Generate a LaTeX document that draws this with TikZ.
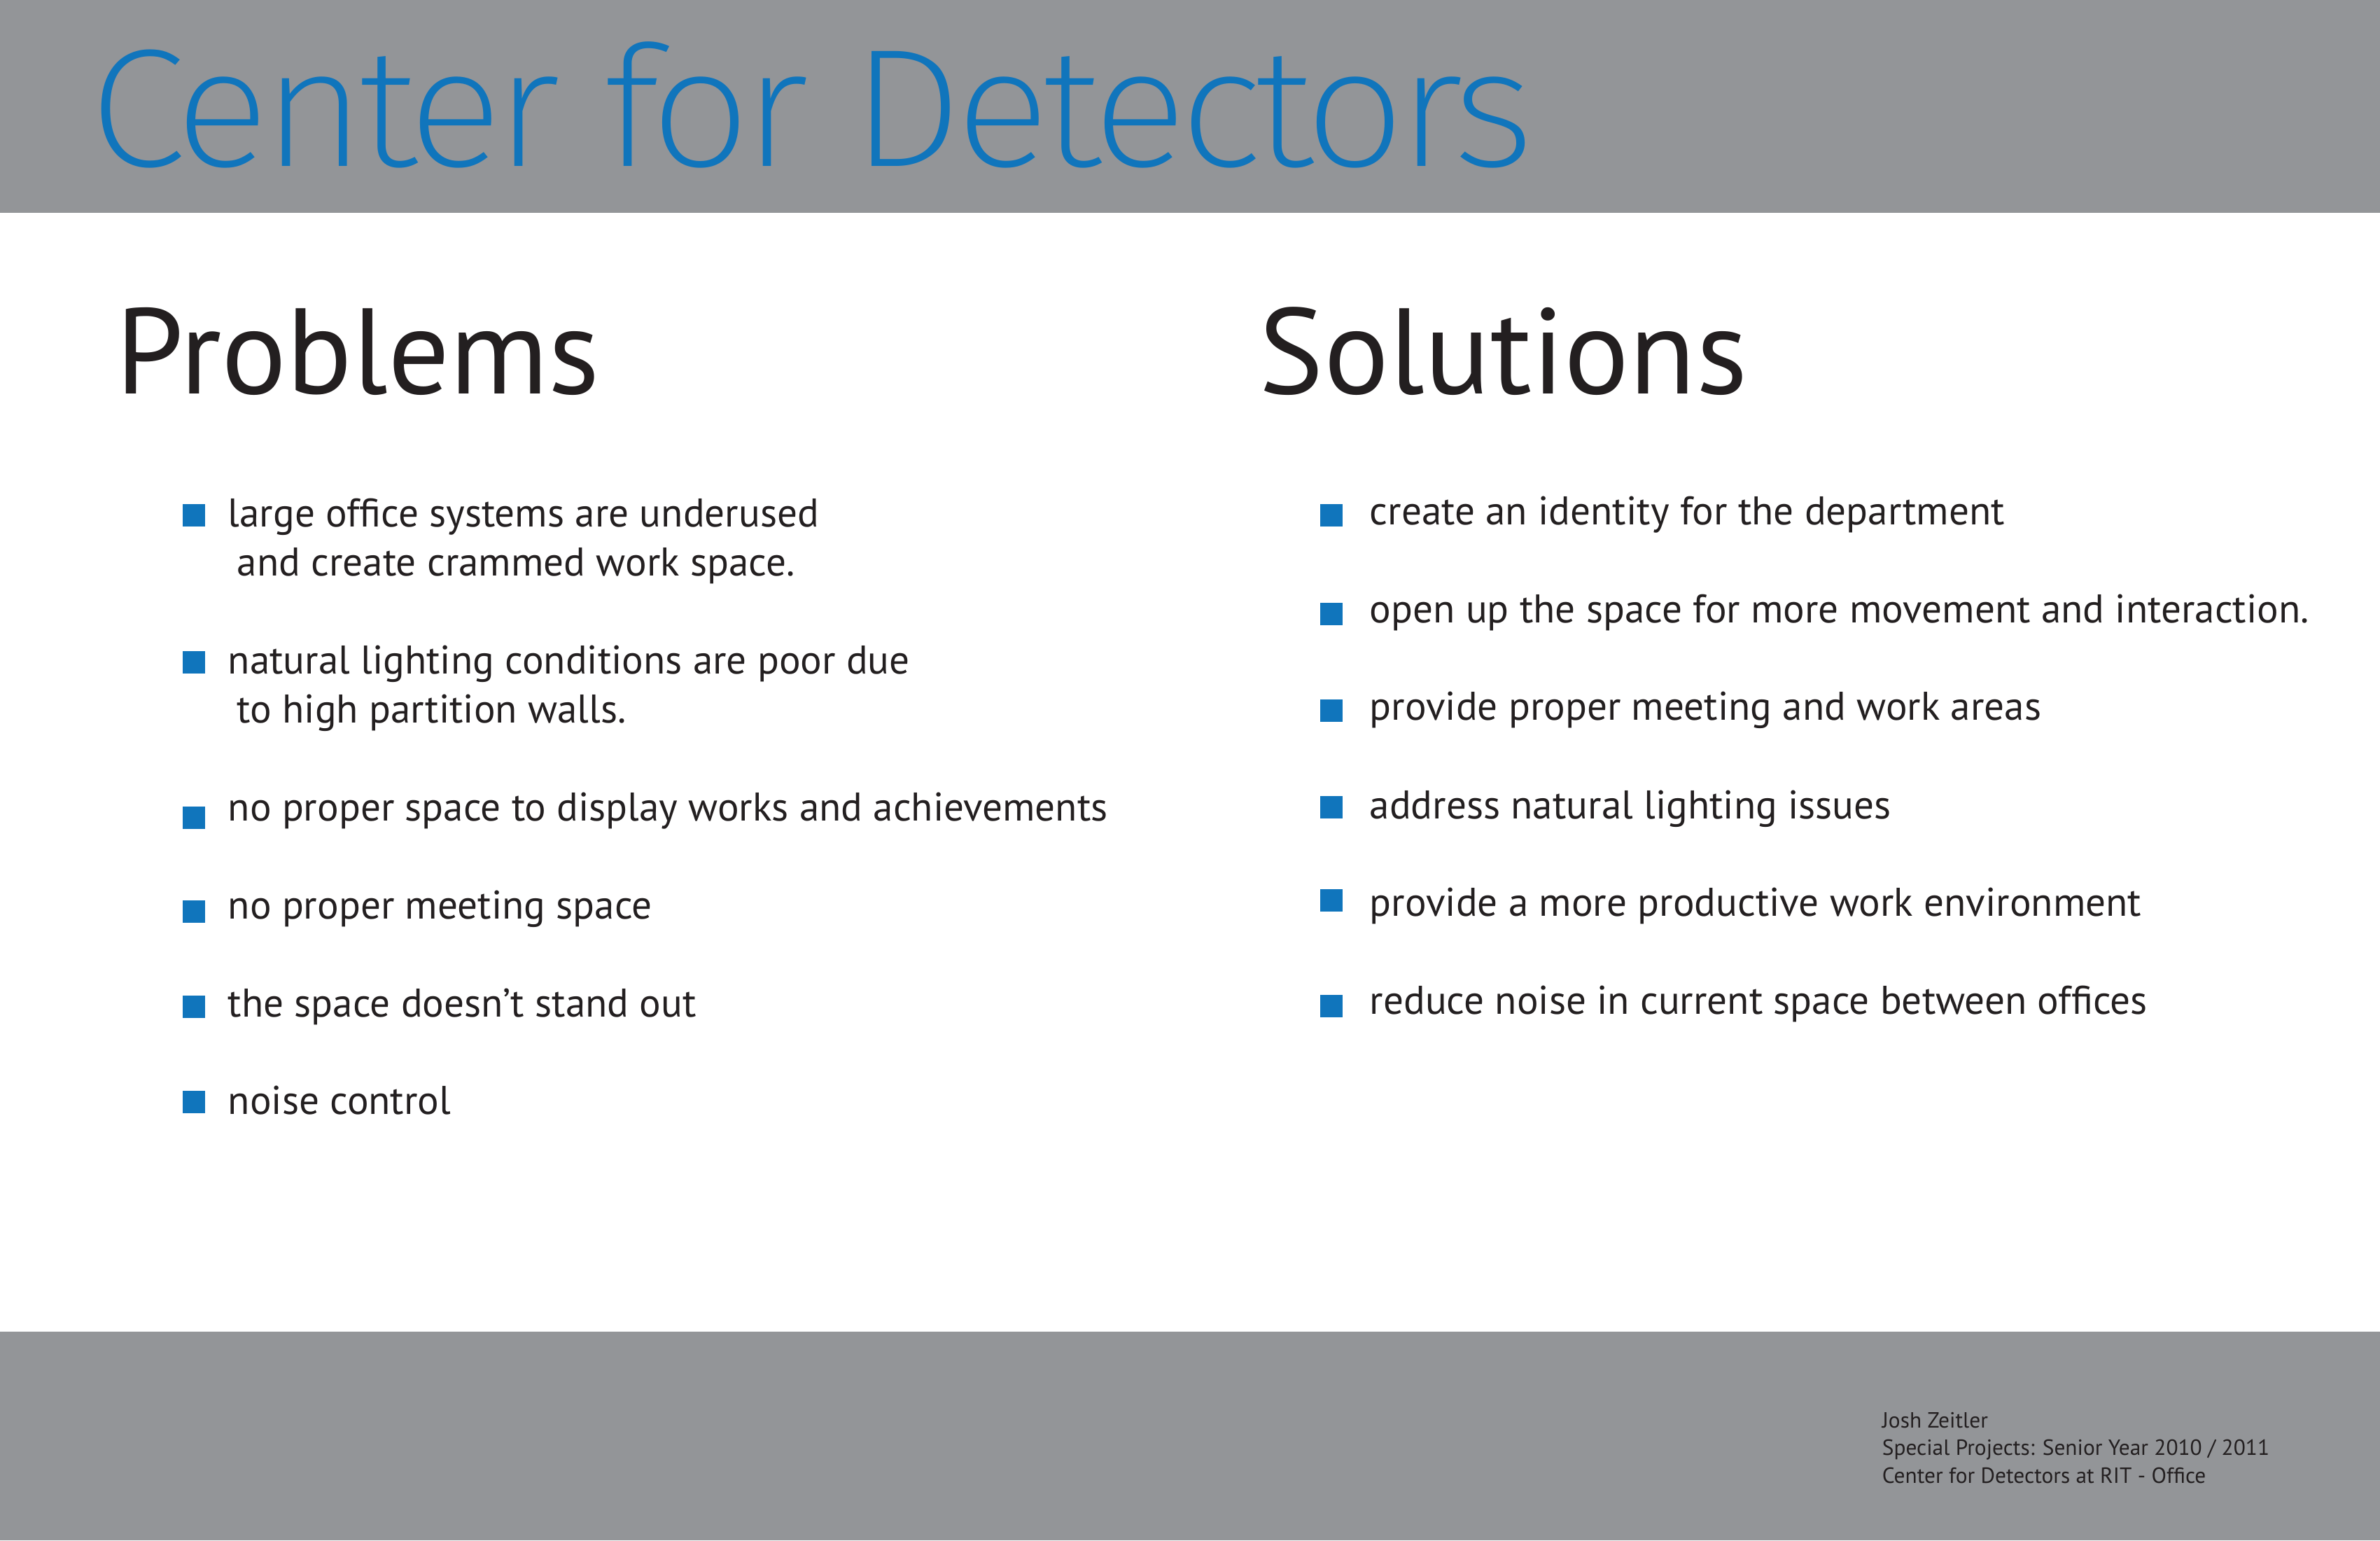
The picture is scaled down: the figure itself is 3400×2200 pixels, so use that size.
\documentclass[tikz,border=0pt]{standalone}
\usepackage{fontspec}
\usepackage{graphicx}
\setmainfont{PT Sans}
\IfFontExistsTF{Fira Sans ExtraLight}{\newfontfamily\titlefont[LetterSpace=-4]{Fira Sans ExtraLight}}{%
  \IfFontExistsTF{Fira Sans Light}{\newfontfamily\titlefont[LetterSpace=-4]{Fira Sans Light}}{%
    \IfFontExistsTF{Poppins Light}{\newfontfamily\titlefont[LetterSpace=-4]{Poppins Light}}{%
      \newfontfamily\titlefont[LetterSpace=-4]{Poppins}}}}
\definecolor{bargray}{HTML}{939598}
\definecolor{cfdblue}{HTML}{1075BC}
\definecolor{ink}{HTML}{231F20}
\tikzset{
  bul/.style={fill=cfdblue, draw=none, inner sep=0pt, minimum size=8pt, anchor=south west},
  item/.style={anchor=base west, inner sep=0pt, text=ink, align=left, font=\fontsize{14.3}{17.5}\selectfont},
  heading/.style={anchor=base west, inner sep=0pt, text=ink, font=\fontsize{43.5}{50}\selectfont},
  foot/.style={anchor=base west, inner sep=0pt, text=ink, align=left, font=\fontsize{7.85}{9.85}\selectfont}
}
\begin{document}
\begin{tikzpicture}[x=0.25pt,y=-0.25pt]
\useasboundingbox (0,0) rectangle (3400,2200);
\fill[white] (0,0) rectangle (3400,2200);
\fill[bargray] (0,0) rectangle (3400,304);
\fill[bargray] (0,1902) rectangle (3400,2200);
% title
\node[anchor=base west, inner sep=0pt, text=cfdblue] (title) at (127,237)
  {\resizebox{516pt}{\height}{\titlefont\fontsize{60}{60}\selectfont Center for Detectors}};
% headings
\node[heading] (hprob) at (165,562) {Problems};
\node[heading] (hsol) at (1798,562) {Solutions};
% problems
\node[bul] (pb1) at (260,753) {};
\node[item] (p1) at (325,822) {large office systems are underused\\\hspace*{3.25pt}and create crammed work space.};
\node[bul] (pb2) at (260,963) {};
\node[item] (p2) at (325,1032) {natural lighting conditions are poor due\\\hspace*{3.25pt}to high partition walls.};
\node[bul] (pb3) at (260,1185) {};
\node[item] (p3) at (325,1172) {no proper space to display works and achievements};
\node[bul] (pb4) at (260,1319) {};
\node[item] (p4) at (325,1312) {no proper meeting space};
\node[bul] (pb5) at (260,1455) {};
\node[item] (p5) at (325,1452) {the space doesn’t stand out};
\node[bul] (pb6) at (260,1591) {};
\node[item] (p6) at (325,1591) {noise control};
% solutions
\node[bul] (sb1) at (1885,753) {};
\node[item] (s1) at (1956,749) {create an identity for the department};
\node[bul] (sb2) at (1885,894) {};
\node[item] (s2) at (1956,889) {open up the space for more movement and interaction.};
\node[bul] (sb3) at (1885,1032) {};
\node[item] (s3) at (1956,1028) {provide proper meeting and work areas};
\node[bul] (sb4) at (1885,1170) {};
\node[item] (s4) at (1956,1169) {address natural lighting issues};
\node[bul] (sb5) at (1885,1303) {};
\node[item] (s5) at (1956,1308) {provide a more productive work environment};
\node[bul] (sb6) at (1885,1454) {};
\node[item] (s6) at (1956,1448) {reduce noise in current space between offices};
% footer
\node[foot] (credits) at (2688,2118) {Josh Zeitler\\Special Projects: Senior Year 2010 / 2011\\Center for Detectors at RIT - Office};
\end{tikzpicture}
\end{document}
